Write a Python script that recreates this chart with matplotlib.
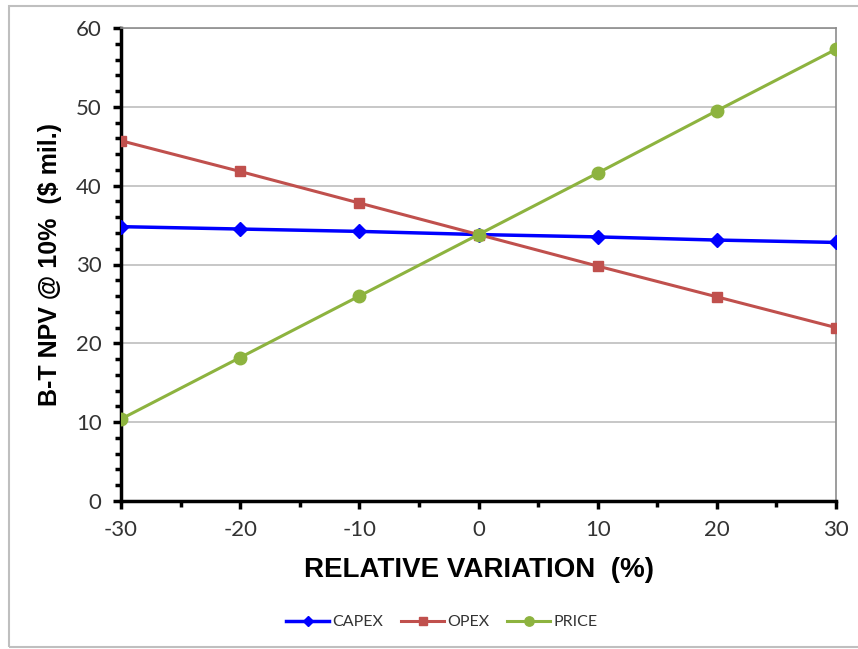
import numpy as np
import matplotlib
matplotlib.use('Agg')
from matplotlib import pyplot as plt
from matplotlib.ticker import MultipleLocator
from matplotlib.patches import Rectangle

plt.rcParams['font.family'] = ['Liberation Sans', 'DejaVu Sans']
plt.rcParams['axes.unicode_minus'] = False

variation = [-30, -20, -10, 0, 10, 20, 30]
capex = [34.8, 34.5, 34.2, 33.8, 33.5, 33.1, 32.8]
opex = [45.7, 41.8, 37.8, 33.8, 29.8, 25.9, 22.0]
price = [10.4, 18.2, 26.0, 33.8, 41.6, 49.5, 57.3]

W, H = 858, 649
fig = plt.figure(figsize=(W / 100, H / 100), dpi=100)
ax = fig.add_axes([121 / W, 1 - 501 / H, (836 - 121) / W, (501 - 28) / H])

ax.plot(variation, capex, color='#0000ff', lw=2.5, marker='D', ms=7, label='CAPEX', zorder=3)
ax.plot(variation, opex, color='#c0504d', lw=2.2, marker='s', ms=7, label='OPEX', zorder=3)
ax.plot(variation, price, color='#8db33f', lw=2.2, marker='o', ms=9, label='PRICE', zorder=3)

ax.set_xlim(-30, 30)
ax.set_ylim(0, 60)
ax.xaxis.set_major_locator(MultipleLocator(10))
ax.xaxis.set_minor_locator(MultipleLocator(5))
ax.yaxis.set_major_locator(MultipleLocator(10))
ax.yaxis.set_minor_locator(MultipleLocator(2))
ax.grid(axis='y', which='major', color='#bdbdbd', lw=1.2)
ax.set_axisbelow(True)

for s in ['left', 'bottom']:
    ax.spines[s].set_color('black')
    ax.spines[s].set_linewidth(2.5)
for s in ['top', 'right']:
    ax.spines[s].set_color('#8c8c8c')
    ax.spines[s].set_linewidth(1.2)

ax.tick_params(which='major', direction='out', length=6, width=2.5, color='black',
               labelsize=15, labelcolor='#333333', pad=8)
ax.tick_params(which='minor', direction='out', length=4, width=2.5, color='black')
for lab in ax.get_xticklabels() + ax.get_yticklabels():
    lab.set_family(['Lato', 'DejaVu Sans'])
    lab.set_fontsize(16)

ax.set_xlabel('RELATIVE VARIATION  (%)', fontsize=20, fontweight='bold', labelpad=12)
ax.set_ylabel('B-T NPV @ 10%  ($ mil.)', fontsize=18, fontweight='bold', labelpad=10)

leg = fig.legend(loc='center', bbox_to_anchor=(0.515, 1 - 622 / H), ncol=3, frameon=False,
                 prop={'family': ['Lato', 'DejaVu Sans'], 'size': 11.5},
                 handlelength=2.7, handletextpad=0.2, columnspacing=1.1, markerscale=0.75)
for t in leg.get_texts():
    t.set_color('#333333')

fig.patches.append(Rectangle((9 / W, 1 - 647 / H), (W + 5 - 9) / W, (647 - 6) / H,
                             transform=fig.transFigure, fill=False, ec='#bfbfbf', lw=1.5))

fig.savefig('out.png', dpi=100)
